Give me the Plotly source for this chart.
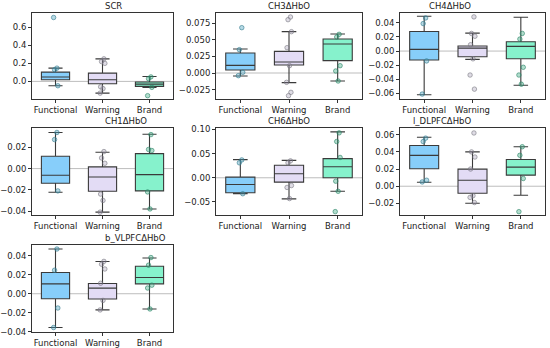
import plotly.graph_objects as go

CATEGORIES = ["Functional", "Warning", "Brand"]
PANEL_TITLES = ["SCR", "CH3ΔHbO", "CH4ΔHbO", "CH1ΔHbO", "CH6ΔHbO",
                "l_DLPFCΔHbO", "b_VLPFCΔHbO"]

# box stats per category: [q1, median, q3, lower whisker, upper whisker]
SCR_STATS = [[0.018, 0.048, 0.103, -0.048, 0.147],
             [-0.026, 0.018, 0.092, -0.13, 0.25],
             [-0.055, -0.03, -0.007, -0.066, 0.055]]
SCR_POINTS = [[0.147, 0.13, -0.048, 0.708],
              [0.25, 0.22, 0.20, -0.06, -0.08, -0.13],
              [0.05, 0.03, -0.066, -0.158]]
SCR_FLIERS = [[0.708], [], [-0.158]]

CH3_STATS = [[0.0045, 0.0115, 0.030, -0.0045, 0.036],
             [0.012, 0.0165, 0.0325, -0.0145, 0.062],
             [0.0185, 0.0435, 0.051, -0.012, 0.0585]]
CH3_POINTS = [[0.068, 0.035, 0.001, -0.004],
              [0.084, 0.080, 0.062, 0.038, 0.011, -0.014, -0.029, -0.034],
              [0.058, 0.054, 0.011, 0.003, -0.012]]
CH3_FLIERS = [[0.068], [0.084, 0.080, -0.029, -0.034], []]

CH4_STATS = [[-0.0127, 0.0024, 0.0278, -0.062, 0.0494],
             [-0.008, 0.0042, 0.0071, -0.0118, 0.0254],
             [-0.0108, 0.0066, 0.0132, -0.0485, 0.048]]
CH4_POINTS = [[0.047, 0.039, -0.014, -0.061],
              [0.0485, 0.025, 0.021, 0.009, -0.011, -0.034, -0.054],
              [0.025, 0.017, -0.023, -0.034, -0.047]]
CH4_FLIERS = [[], [0.0485, -0.034, -0.054], []]

CH1_STATS = [[-0.0138, -0.0063, 0.0116, -0.0223, 0.034],
             [-0.0214, -0.0079, 0.0016, -0.041, 0.0154],
             [-0.021, -0.0057, 0.0141, -0.038, 0.0323]]
CH1_POINTS = [[0.034, 0.0273, -0.021],
              [0.016, 0.010, 0.005, -0.024, -0.030, -0.041],
              [0.032, 0.018, 0.017, -0.022, -0.038]]
CH1_FLIERS = [[], [], []]

CH6_STATS = [[-0.031, -0.0139, 0.0014, -0.033, 0.0375],
             [-0.009, 0.0083, 0.026, -0.0437, 0.036],
             [0.0, 0.0229, 0.0396, -0.0278, 0.095]]
CH6_POINTS = [[0.037, 0.031, -0.033],
              [0.035, 0.031, -0.016, -0.020, -0.043],
              [0.093, 0.075, 0.042, -0.007, -0.028, -0.070]]
CH6_FLIERS = [[], [], [-0.070]]

DLPFC_STATS = [[0.0203, 0.0359, 0.0475, 0.0047, 0.057],
               [-0.0082, 0.007, 0.0199, -0.0199, 0.040],
               [0.0129, 0.0222, 0.0312, -0.0105, 0.046]]
DLPFC_POINTS = [[0.056, 0.052, 0.007, 0.005],
                [0.062, 0.040, 0.034, 0.020, -0.011, -0.013, -0.019],
                [0.046, 0.036, 0.009, -0.0296]]
DLPFC_FLIERS = [[], [0.062], [-0.0296]]

VLPFC_STATS = [[-0.0052, 0.0104, 0.0223, -0.0355, 0.047],
               [-0.0056, 0.0059, 0.0108, -0.017, 0.0338],
               [0.0104, 0.0171, 0.0289, -0.016, 0.0376]]
VLPFC_POINTS = [[0.047, 0.0247, -0.015, -0.0355],
                [0.034, 0.031, 0.026, 0.011, -0.007, -0.017],
                [0.038, 0.030, 0.009, 0.006, -0.016]]
VLPFC_FLIERS = [[], [], []]

Y_RANGES = [[-0.195, 0.758], [-0.039, 0.09], [-0.068, 0.054], [-0.0437, 0.0382],
            [-0.077, 0.103], [-0.0335, 0.0678], [-0.0402, 0.0512]]
Y_DTICKS = [0.2, 0.025, 0.02, 0.02, 0.05, 0.02, 0.02]
Y_FORMATS = [".1f", ".3f", ".2f", ".2f", ".2f", ".2f", ".2f"]

PANEL_STATS = [SCR_STATS, CH3_STATS, CH4_STATS, CH1_STATS, CH6_STATS, DLPFC_STATS, VLPFC_STATS]
PANEL_POINTS = [SCR_POINTS, CH3_POINTS, CH4_POINTS, CH1_POINTS, CH6_POINTS, DLPFC_POINTS, VLPFC_POINTS]
PANEL_FLIERS = [SCR_FLIERS, CH3_FLIERS, CH4_FLIERS, CH1_FLIERS, CH6_FLIERS, DLPFC_FLIERS, VLPFC_FLIERS]

FILLS = ["#87cefa", "#e3dcf5", "#86f2cc"]
POINT_FILL = ["rgba(70,160,190,0.4)", "rgba(150,140,170,0.3)", "rgba(60,170,130,0.4)"]
POINT_LINE = ["rgba(50,120,140,0.75)", "rgba(120,120,130,0.75)", "rgba(40,130,100,0.75)"]
JITTER = [0.03, -0.02, 0.05, -0.04, 0.01, -0.05, 0.04, -0.01]

W, H = 550, 348
COL_X = [(32, 173), (216, 362), (400, 545)]
ROW_Y = [(13, 99), (128, 215), (245, 332)]

fig = go.Figure()
annotations = []
shapes = []
layout_axes = {}

for p, title in enumerate(PANEL_TITLES):
    r, c = divmod(p, 3)
    n = p + 1
    xa = "x" if n == 1 else f"x{n}"
    ya = "y" if n == 1 else f"y{n}"
    xkey = "xaxis" if n == 1 else f"xaxis{n}"
    ykey = "yaxis" if n == 1 else f"yaxis{n}"
    x0, x1 = COL_X[c]
    y0, y1 = ROW_Y[r]
    stats = PANEL_STATS[p]
    shapes.append(dict(type="line", xref=xa, yref=ya, x0=-0.5, x1=2.5, y0=0, y1=0,
                       line=dict(color="#bdbdbd", width=1), layer="below"))
    for i, cat in enumerate(CATEGORIES):
        q1, med, q3, lo, hi = stats[i]
        fig.add_trace(go.Box(
            x=[i], q1=[q1], median=[med], q3=[q3], lowerfence=[lo], upperfence=[hi],
            width=0.6, whiskerwidth=0.5, fillcolor=FILLS[i],
            line=dict(color="#3a3a3a", width=1.1), boxpoints=False,
            xaxis=xa, yaxis=ya, showlegend=False, hoverinfo="skip"))
        pts = PANEL_POINTS[p][i]
        fig.add_trace(go.Scatter(
            x=[i + JITTER[k % len(JITTER)] for k in range(len(pts))], y=pts,
            mode="markers", xaxis=xa, yaxis=ya, showlegend=False,
            marker=dict(size=4.5, color=POINT_FILL[i],
                        line=dict(color=POINT_LINE[i], width=0.8))))
        fl = PANEL_FLIERS[p][i]
        if fl:
            fig.add_trace(go.Scatter(
                x=[i] * len(fl), y=fl, mode="markers", xaxis=xa, yaxis=ya,
                showlegend=False,
                marker=dict(size=5, color="rgba(0,0,0,0)", symbol="circle-open",
                            line=dict(color="rgba(90,90,90,0.6)", width=0.9))))
    layout_axes[xkey] = dict(
        domain=[x0 / W, x1 / W], range=[-0.5, 2.5], anchor=ya, automargin=False,
        tickmode="array", tickvals=[0, 1, 2], ticktext=CATEGORIES,
        showgrid=False, zeroline=False, showline=True, mirror=True,
        linecolor="#333333", linewidth=1, ticks="outside", ticklen=3,
        tickcolor="#333333", tickfont=dict(size=8.5, color="#222"))
    layout_axes[ykey] = dict(
        domain=[1 - y1 / H, 1 - y0 / H], range=Y_RANGES[p], anchor=xa, automargin=False,
        dtick=Y_DTICKS[p], tick0=0, tickformat=Y_FORMATS[p],
        showgrid=False, zeroline=False, showline=True, mirror=True,
        linecolor="#333333", linewidth=1, ticks="outside", ticklen=3,
        tickcolor="#333333", tickfont=dict(size=8.5, color="#222"))
    annotations.append(dict(text=title, x=(x0 + x1) / 2 / W, y=1 - (y0 - 7) / H,
                            xref="paper", yref="paper", showarrow=False,
                            font=dict(size=8.5, color="#222"), yanchor="middle"))

fig.update_layout(width=W, height=H, margin=dict(l=0, r=0, t=0, b=0, autoexpand=False),
                  paper_bgcolor="white", plot_bgcolor="white",
                  font=dict(family="DejaVu Sans"),
                  annotations=annotations, shapes=shapes, **layout_axes)
fig.write_html("out.html", config={"displayModeBar": False},
               post_script="document.body.style.margin='0';document.body.style.overflow='hidden';")
